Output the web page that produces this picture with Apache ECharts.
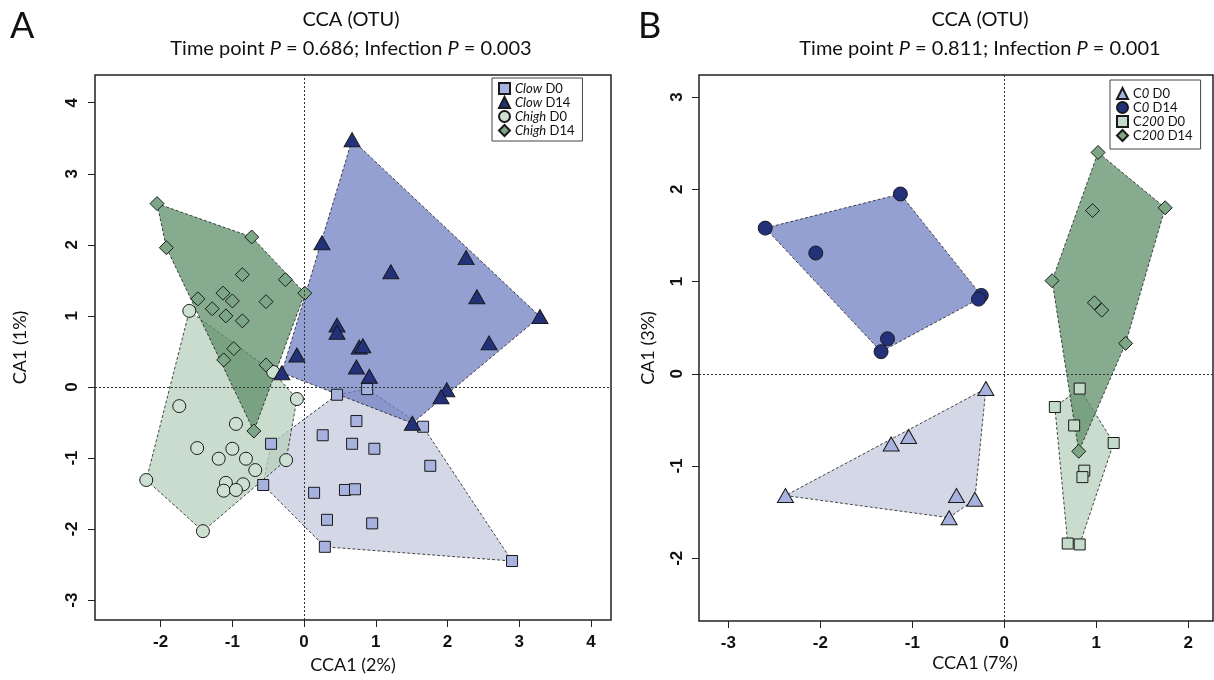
<!DOCTYPE html>
<html>
<head>
<meta charset="utf-8">
<script src="https://cdn.jsdelivr.net/npm/echarts@6/dist/echarts.min.js"></script>
<style>
  html, body { margin: 0; background: #fff; }
  #chart { width: 1214px; height: 680px; }
</style>
</head>
<body>
<div id="chart"></div>
<script>
// ---- panel A: CCA (OTU), Clow / Chigh at D0 and D14 ----
const clowD0 = [[0.46, -0.11], [0.88, -0.03], [1.66, -0.56], [0.73, -0.48], [0.26, -0.68], [0.67, -0.80],
  [0.98, -0.87], [1.76, -1.11], [-0.46, -0.80], [-0.57, -1.38], [0.14, -1.49], [0.57, -1.45], [0.71, -1.44],
  [0.32, -1.87], [0.95, -1.92], [0.29, -2.25], [2.90, -2.45]]
const clowD14 = [[0.67, 3.48], [0.25, 2.03], [1.21, 1.62], [2.26, 1.82], [2.41, 1.27], [3.29, 0.99], [2.58, 0.62],
  [0.46, 0.87], [0.46, 0.77], [-0.10, 0.45], [0.77, 0.56], [0.82, 0.58], [0.73, 0.28], [0.91, 0.15],
  [-0.31, 0.20], [1.99, -0.04], [1.91, -0.14], [1.51, -0.51]]
const chighD0 = [[-1.74, -0.27], [-0.10, -0.17], [-0.95, -0.52], [-1.49, -0.86], [-1.00, -0.87], [-1.19, -1.01],
  [-0.81, -1.01], [-0.68, -1.17], [-0.25, -1.03], [-2.20, -1.31], [-1.09, -1.35], [-0.85, -1.37],
  [-1.12, -1.46], [-0.95, -1.45], [-1.41, -2.03], [-1.60, 1.07], [-0.43, 0.21]]
const chighD14 = [[-2.05, 2.58], [-0.73, 2.11], [-1.92, 1.96], [-0.86, 1.58], [-0.26, 1.51], [0.01, 1.32],
  [-1.13, 1.32], [-1.00, 1.21], [-0.53, 1.20], [-1.48, 1.24], [-1.28, 1.10], [-1.09, 1.00], [-0.86, 0.93],
  [-0.98, 0.54], [-1.12, 0.38], [-0.53, 0.31], [-0.70, -0.62]]

// ---- panel B: C0 / C200 at D0 and D14 ----
const c0D0 = [[-0.20, -0.16], [-1.04, -0.68], [-1.23, -0.76], [-2.38, -1.32], [-0.52, -1.32], [-0.32, -1.36], [-0.60, -1.56]]
const c0D14 = [[-2.60, 1.58], [-1.13, 1.95], [-2.05, 1.31], [-0.25, 0.85], [-0.28, 0.81], [-1.27, 0.38], [-1.34, 0.24]]
const c200D0 = [[0.82, -0.16], [0.55, -0.36], [0.76, -0.56], [1.19, -0.75], [0.87, -1.05], [0.85, -1.12], [0.69, -1.84], [0.82, -1.85]]
const c200D14 = [[1.02, 2.40], [1.75, 1.80], [0.96, 1.77], [0.52, 1.01], [0.98, 0.77], [1.06, 0.69], [1.32, 0.33], [0.81, -0.84]]

// tick positions
const ticksAX = [-2, -1, 0, 1, 2, 3, 4]
const ticksAY = [-3, -2, -1, 0, 1, 2, 3, 4]
const ticksBX = [-3, -2, -1, 0, 1, 2]
const ticksBY = [-2, -1, 0, 1, 2, 3]

const titleFont = "Lato, 'Open Sans', sans-serif"
const tickFont = "'Liberation Sans Narrow', 'Liberation Sans', Arial, sans-serif"

// Andrew's monotone chain, the hulls are drawn as dashed polygons around each group
function hull(points) {
  const p = points.slice().sort((a, b) => a[0] - b[0] || a[1] - b[1])
  const cross = (o, a, b) => (a[0] - o[0]) * (b[1] - o[1]) - (a[1] - o[1]) * (b[0] - o[0])
  const lower = []
  for (const q of p) {
    while (lower.length >= 2 && cross(lower[lower.length - 2], lower[lower.length - 1], q) <= 0) lower.pop()
    lower.push(q)
  }
  const upper = []
  for (let i = p.length - 1; i >= 0; i--) {
    const q = p[i]
    while (upper.length >= 2 && cross(upper[upper.length - 2], upper[upper.length - 1], q) <= 0) upper.pop()
    upper.push(q)
  }
  upper.pop(); lower.pop()
  return lower.concat(upper)
}

function hullSeries(points, fill, axis) {
  const h = hull(points)
  return {
    type: "custom",
    xAxisIndex: axis, yAxisIndex: axis,
    z: 1, silent: true,
    data: h,
    renderItem(params, api) {
      if (params.dataIndex !== 0) return null
      return {
        type: "polygon",
        shape: { points: h.map((pt) => api.coord(pt)) },
        style: { fill, stroke: "#1b1b1b", lineWidth: 0.8, lineDash: [3, 2] }
      }
    }
  }
}

function points(name, data, symbol, size, color, axis) {
  return {
    type: "scatter", name, data, symbol, symbolSize: size,
    xAxisIndex: axis, yAxisIndex: axis, z: 3,
    itemStyle: { color, borderColor: "#1a1a1a", borderWidth: 1, opacity: 1 },
    emphasis: { disabled: true }
  }
}

function zeroLines(axis) {
  return {
    type: "scatter", data: [], xAxisIndex: axis, yAxisIndex: axis, z: 2,
    markLine: {
      silent: true, symbol: "none", label: { show: false },
      lineStyle: { color: "#333", width: 1, type: [2, 2] },
      data: [{ xAxis: 0 }, { yAxis: 0 }]
    }
  }
}

function xAxis(grid, min, max, ticks, name) {
  return {
    type: "value", gridIndex: grid, min, max, name, nameLocation: "middle", nameGap: 34,
    nameTextStyle: { fontFamily: titleFont, fontSize: 18, color: "#111" },
    splitLine: { show: false }, axisLine: { show: false, onZero: false },
    axisTick: { show: true, length: 7, customValues: ticks, lineStyle: { color: "#222" } },
    axisLabel: { customValues: ticks, margin: 14,
      fontFamily: tickFont, fontWeight: "bold", fontSize: 17, color: "#111" }
  }
}

function yAxis(grid, min, max, ticks, name, margin, nameGap) {
  return {
    type: "value", gridIndex: grid, min, max, name, nameLocation: "middle", nameGap,
    nameTextStyle: { fontFamily: titleFont, fontSize: 18, color: "#111" },
    splitLine: { show: false }, axisLine: { show: false, onZero: false },
    axisTick: { show: true, length: 7, customValues: ticks, lineStyle: { color: "#222" } },
    axisLabel: { customValues: ticks, rotate: 90, margin,
      fontFamily: tickFont, fontWeight: "bold", fontSize: 17, color: "#111" }
  }
}

const rich = {
  i: { fontStyle: "italic", fontFamily: titleFont, fontSize: 13, color: "#111" },
  n: { fontFamily: titleFont, fontSize: 13, color: "#111" }
}

function legend(names, left, top, padding) {
  return {
    data: names, left, top, orient: "vertical", itemGap: 1, itemWidth: 11, itemHeight: 11,
    padding, borderColor: "#444", borderWidth: 1, backgroundColor: "#fff",
    selectedMode: false,
    textStyle: { fontFamily: titleFont, fontSize: 13, color: "#111", rich }
  }
}

function titleLines(x, p1, p2) {
  const st = { fontFamily: titleFont, fontSize: 20, fontWeight: "normal", color: "#111" }
  return [
    { text: "CCA (OTU)", left: x, top: 5, textAlign: "center", textStyle: st },
    { text: `Time point {i|P} = ${p1}; Infection {i|P} = ${p2}`, left: x, top: 34, textAlign: "center",
      textStyle: { ...st, rich: { i: { ...st, fontStyle: "italic" } } } }
  ]
}

const navy = "#22317a", lightBlue = "#a8b2de", lightGreen = "#cde0d1", green = "#7da686"

const legendA = legend(["Clow D0", "Clow D14", "Chigh D0", "Chigh D14"], 492, 78, [4, 8, 4, 6])
legendA.formatter = (name) => {
  const [g, t] = name.split(" ")
  return `{i|${g}}{n| ${t}}`
}
const legendB = legend(["C0 D0", "C0 D14", "C200 D0", "C200 D14"], 1110, 80, [7, 8, 7, 6])
legendB.formatter = (name) => {
  const [g, t] = name.split(" ")
  return `{n|C}{i|${g.slice(1)}}{n| ${t}}`
}

const chart = echarts.init(document.getElementById("chart"))
chart.setOption({
  animation: false,
  title: [...titleLines(346, "0.686", "0.003"), ...titleLines(975, "0.811", "0.001")],
  graphic: [
    { type: "text", left: 10, top: 8, style: { text: "A", fontFamily: titleFont, fontSize: 36, fill: "#111" } },
    { type: "text", left: 638, top: 8, style: { text: "B", fontFamily: titleFont, fontSize: 36, fill: "#111" } },
    // panel B's frame is cut by the right edge of the figure, so its axis title sits right of the visible centre
    { type: "text", x: 975, y: 654, style: { text: "CCA1 (7%)", fontFamily: titleFont, fontSize: 18, fill: "#111", align: "center" } }
  ],
  legend: [legendA, legendB],
  grid: [
    { left: 95, top: 75, width: 516, height: 545, show: true, borderColor: "#222", borderWidth: 1.5 },
    { left: 699, top: 75, width: 514, height: 546, show: true, borderColor: "#222", borderWidth: 1.5 }
  ],
  xAxis: [
    xAxis(0, -2.915, 4.28, ticksAX, "CCA1 (2%)"),
    xAxis(1, -3.32, 2.27, ticksBX, "")
  ],
  yAxis: [
    yAxis(0, -3.28, 4.39, ticksAY, "CA1 (1%)", 14, 66),
    yAxis(1, -2.68, 3.24, ticksBY, "CA1 (3%)", 13, 42)
  ],
  series: [
    hullSeries(clowD0, "rgba(198,203,222,0.75)", 0),
    hullSeries(chighD0, "rgba(184,208,188,0.75)", 0),
    hullSeries(clowD14, "rgba(114,128,195,0.75)", 0),
    hullSeries(chighD14, "rgba(94,143,106,0.75)", 0),
    zeroLines(0),
    points("Clow D0", clowD0, "rect", 11, lightBlue, 0),
    points("Chigh D0", chighD0, "circle", 13, lightGreen, 0),
    points("Chigh D14", chighD14, "diamond", 14, green, 0),
    points("Clow D14", clowD14, "triangle", [16, 14], navy, 0),

    hullSeries(c0D0, "rgba(198,203,222,0.75)", 1),
    hullSeries(c200D0, "rgba(184,208,188,0.75)", 1),
    hullSeries(c0D14, "rgba(114,128,195,0.75)", 1),
    hullSeries(c200D14, "rgba(94,143,106,0.75)", 1),
    zeroLines(1),
    points("C0 D0", c0D0, "triangle", [16, 14], lightBlue, 1),
    points("C200 D0", c200D0, "rect", 11, "#c5dbc9", 1),
    points("C200 D14", c200D14, "diamond", 14, green, 1),
    points("C0 D14", c0D14, "circle", 14, navy, 1)
  ]
})
</script>
</body>
</html>
